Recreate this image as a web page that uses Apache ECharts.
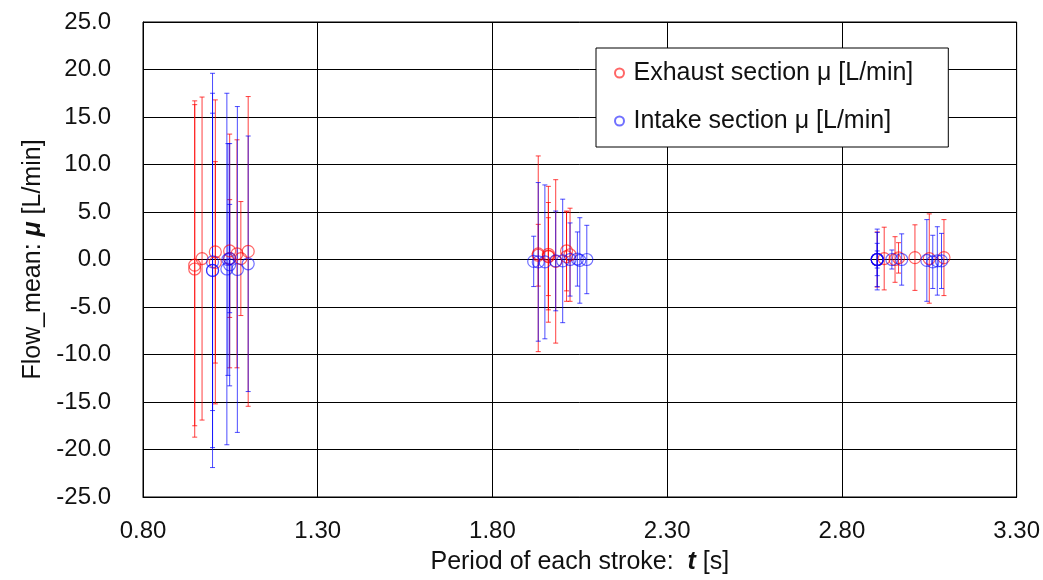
<!DOCTYPE html>
<html>
<head>
<meta charset="utf-8">
<script src="https://cdn.jsdelivr.net/npm/echarts@6/dist/echarts.min.js"></script>
<style>
  html, body { margin: 0; padding: 0; background: #fff; }
  #chart { width: 1043px; height: 580px; }
</style>
</head>
<body>
<div id="chart"></div>
<script>
// Exhaust section: period t [s], mean mu [L/min], half error bar
const exhaustT    = [0.948, 0.948, 0.969, 1.007, 1.007, 1.048, 1.048, 1.069, 1.080, 1.101,
                     1.931, 1.931, 1.960, 1.960, 1.960, 1.981, 2.012, 2.012, 2.022,
                     2.901, 2.921, 2.952, 2.962, 3.009, 3.050, 3.092];
const exhaustMean = [-1.0, -0.6, 0.1, 0.8, -0.3, 0.9, 0.1, 0.6, 0.1, 0.85,
                     0.6, 0.45, 0.55, 0.35, 0.3, -0.2, 0.3, 0.9, 0.5,
                     0.0, 0.1, 0.0, 0.17, 0.2, 0.1, 0.2];
const exhaustErr  = [17.7, 16.9, 17.0, 16.0, 10.6, 12.3, 6.2, 12.0, 6.0, 16.3,
                     10.3, 3.25, 7.15, 5.65, 4.1, 8.6, 4.7, 4.2, 4.9,
                     2.9, 3.3, 2.4, 1.6, 3.45, 4.7, 4.0];

// Intake section
const intakeT    = [0.999, 0.999, 0.999, 1.040, 1.043, 1.048, 1.048, 1.070, 1.101,
                    1.918, 1.931, 1.950, 1.981, 2.001, 2.022, 2.043, 2.050, 2.070,
                    2.901, 2.901, 2.901, 2.901, 2.943, 2.971, 3.043, 3.060, 3.073, 3.085];
const intakeMean = [-1.15, -1.15, -0.25, -1.0, 0.0, -0.55, 0.1, -1.05, -0.45,
                    -0.2, -0.25, -0.25, -0.15, -0.15, 0.0, 0.05, -0.1, 0.0,
                    0.0, 0.0, 0.0, 0.0, 0.0, 0.0, -0.1, -0.25, -0.15, -0.15];
const intakeErr  = [20.75, 18.65, 15.65, 18.5, 12.2, 12.75, 5.7, 17.15, 13.45,
                    2.65, 8.35, 8.1, 5.25, 6.5, 3.85, 2.85, 4.5, 3.6,
                    3.2, 2.85, 1.7, 0.9, 1.0, 2.7, 4.3, 2.8, 3.6, 2.9];

const exhaustName = 'Exhaust section \u03bc [L/min]';
const intakeName = 'Intake section \u03bc [L/min]';
const red = 'rgba(255,0,0,0.75)';
const blue = 'rgba(0,0,255,0.7)';
const font = 'Liberation Sans';

const exhaustData = exhaustT.map((t, i) => [t, exhaustMean[i], exhaustErr[i]]);
const intakeData = intakeT.map((t, i) => [t, intakeMean[i], intakeErr[i]]);

function errorBar(params, api) {
  const x = api.value(0), m = api.value(1), e = api.value(2);
  const hi = api.coord([x, m + e]);
  const lo = api.coord([x, m - e]);
  const c = api.visual('color');
  const w = 2.5;
  const st = { stroke: c, lineWidth: 1 };
  return {
    type: 'group',
    children: [
      { type: 'line', shape: { x1: hi[0], y1: hi[1], x2: lo[0], y2: lo[1] }, style: st },
      { type: 'line', shape: { x1: hi[0] - w, y1: hi[1], x2: hi[0] + w, y2: hi[1] }, style: st },
      { type: 'line', shape: { x1: lo[0] - w, y1: lo[1], x2: lo[0] + w, y2: lo[1] }, style: st }
    ]
  };
}

const boldMu = { fontSize: 25, fontWeight: 'bold', fontStyle: 'italic', fontFamily: font, color: '#111' };

const chart = echarts.init(document.getElementById('chart'));
chart.setOption({
  animation: false,
  backgroundColor: '#fff',
  textStyle: { fontFamily: font },
  grid: {
    left: 143, right: 26, top: 22, bottom: 83,
    show: true, borderColor: '#000', borderWidth: 1
  },
  legend: {
    data: [exhaustName, intakeName],
    orient: 'vertical',
    left: 596, top: 48,
    padding: [11, 35, 12, 18],
    itemGap: 20,
    itemWidth: 18, itemHeight: 9,
    borderColor: '#000', borderWidth: 1, borderRadius: 0,
    backgroundColor: '#fff',
    textStyle: { fontSize: 25, color: '#111', fontFamily: font, lineHeight: 28 }
  },
  xAxis: {
    type: 'value',
    min: 0.8, max: 3.3, interval: 0.5,
    axisLine: { show: true, onZero: false, lineStyle: { color: '#000' } },
    axisTick: { show: false },
    splitLine: { show: true, lineStyle: { color: '#000', width: 1 } },
    axisLabel: {
      margin: 22, fontSize: 24, color: '#111', fontFamily: font,
      formatter: v => v.toFixed(2)
    },
    name: 'Period of each stroke:  {b|t} [s]',
    nameLocation: 'middle',
    nameGap: 53,
    nameTextStyle: { fontSize: 25, color: '#111', fontFamily: font, rich: { b: boldMu } }
  },
  yAxis: {
    type: 'value',
    min: -25, max: 25, interval: 5,
    axisLine: { show: true, onZero: false, lineStyle: { color: '#000' } },
    axisTick: { show: false },
    splitLine: { show: true, lineStyle: { color: '#000', width: 1 } },
    axisLabel: {
      margin: 32, fontSize: 24, color: '#111', fontFamily: font,
      formatter: v => v.toFixed(1)
    },
    name: 'Flow_mean: {b|\u03bc} [L/min]',
    nameLocation: 'middle',
    nameGap: 97,
    nameTextStyle: { fontSize: 25, color: '#111', fontFamily: font, rich: { b: boldMu } }
  },
  series: [
    {
      name: 'exhaustErr', type: 'custom', renderItem: errorBar,
      itemStyle: { color: red }, data: exhaustData, silent: true, z: 2
    },
    {
      name: 'intakeErr', type: 'custom', renderItem: errorBar,
      itemStyle: { color: blue }, data: intakeData, silent: true, z: 2
    },
    {
      name: exhaustName, type: 'scatter', symbol: 'circle', symbolSize: 12,
      itemStyle: { color: 'rgba(0,0,0,0)', borderColor: red, borderWidth: 1.2 },
      data: exhaustData.map(d => [d[0], d[1]]), z: 3
    },
    {
      name: intakeName, type: 'scatter', symbol: 'circle', symbolSize: 12,
      itemStyle: { color: 'rgba(0,0,0,0)', borderColor: blue, borderWidth: 1.2 },
      data: intakeData.map(d => [d[0], d[1]]), z: 3
    }
  ]
});
</script>
</body>
</html>
